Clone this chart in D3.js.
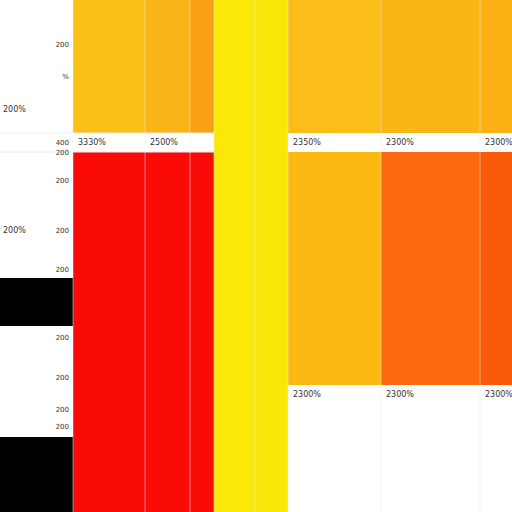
<!DOCTYPE html>
<html><head><meta charset="utf-8">
<script src="https://cdn.jsdelivr.net/npm/d3@7"></script>
<style>body{margin:0;background:#fff}svg{display:block}</style>
</head><body>
<script>
const columns = ["c0","c1","c2","c3","c4","c5","c6","c7","c8"];
const columnWeights = [73,72,45,24,41,33,93,99,32];
const segmentValues = [
  [278,48,111,75],
  [133,19,360],
  [133,19,360],
  [133,19,360],
  [512],
  [512],
  [133,19,233,127],
  [133,19,233,127],
  [133,19,233,127]
];
const segmentColors = [
  ["#ffffff","#000000","#ffffff","#000000"],
  ["#fbc015","#ffffff","#fb0b08"],
  ["#fbb416","#ffffff","#fb0b08"],
  ["#f9a014","#ffffff","#fb0b08"],
  ["#fbe808"],
  ["#fbe60a"],
  ["#fbbd18","#ffffff","#fbb912","#ffffff"],
  ["#fbb515","#ffffff","#fb6a10","#ffffff"],
  ["#fbb013","#ffffff","#f95a0a","#ffffff"]
];
const axisLabels = ["200","200","200","200","200","200","200","200","200"];
const axisLabelPos = [44,76,152,180,230,269,337,377,409,426];
const sideLabels = ["200%","200%"];
const sideLabelPos = [109,230];
const bandLabels = ["3330%","2500%","2350%","2300%","2300%"];
const bandLabelCols = [1,2,6,7,8];
const lowLabels = ["2300%","2300%","2300%"];
const lowLabelCols = [6,7,8];

const W=512,H=512;
const svg=d3.select("body").append("svg").attr("width",W).attr("height",H);
const cum=[0];columnWeights.forEach(w=>cum.push(cum[cum.length-1]+w));
const x=d3.scaleLinear().domain([0,d3.sum(columnWeights)]).range([0,W]);
const y=d3.scaleLinear().domain([0,512]).range([0,H]);

columns.forEach((c,i)=>{
  let acc=0;
  segmentValues[i].forEach((v,j)=>{
    svg.append("rect").attr("x",x(cum[i])).attr("y",y(acc))
      .attr("width",x(cum[i+1])-x(cum[i])).attr("height",y(acc+v)-y(acc))
      .attr("fill",segmentColors[i][j]);
    acc+=v;
  });
  if(i>0) svg.append("line").attr("x1",x(cum[i])).attr("x2",x(cum[i]))
    .attr("y1",0).attr("y2",H).attr("stroke","#eee").attr("stroke-opacity",0.5).attr("stroke-width",1);
});
// band separator lines
svg.append("line").attr("x1",0).attr("x2",x(cum[4])).attr("y1",y(133)).attr("y2",y(133)).attr("stroke","#eee");
svg.append("line").attr("x1",0).attr("x2",x(cum[4])).attr("y1",y(152)).attr("y2",y(152)).attr("stroke","#eee");

const fs=8, ff="DejaVu Sans";
axisLabelPos.forEach((p,i)=>{
  svg.append("text").attr("x",x(cum[1])-4).attr("y",y(p)+3).attr("text-anchor","end")
    .attr("font-size",fs-1).attr("font-family",ff).attr("fill","#333").text(i==1?"%":(i<axisLabels.length?axisLabels[i]:"200"));
});
svg.append("text").attr("x",x(cum[1])-4).attr("y",y(142)+3).attr("text-anchor","end")
  .attr("font-size",fs-1).attr("font-family",ff).attr("fill","#333").text("400");
sideLabels.forEach((t,i)=>svg.append("text").attr("x",3).attr("y",y(sideLabelPos[i])+3)
  .attr("font-size",fs).attr("font-family",ff).attr("fill","#333").text(t));
bandLabels.forEach((t,i)=>svg.append("text").attr("x",x(cum[bandLabelCols[i]])+5).attr("y",y(142)+3)
  .attr("font-size",fs).attr("font-family",ff).attr("fill","#333").text(t));
lowLabels.forEach((t,i)=>svg.append("text").attr("x",x(cum[lowLabelCols[i]])+5).attr("y",y(394)+3)
  .attr("font-size",fs).attr("font-family",ff).attr("fill","#333").text(t));
</script>
</body></html>
